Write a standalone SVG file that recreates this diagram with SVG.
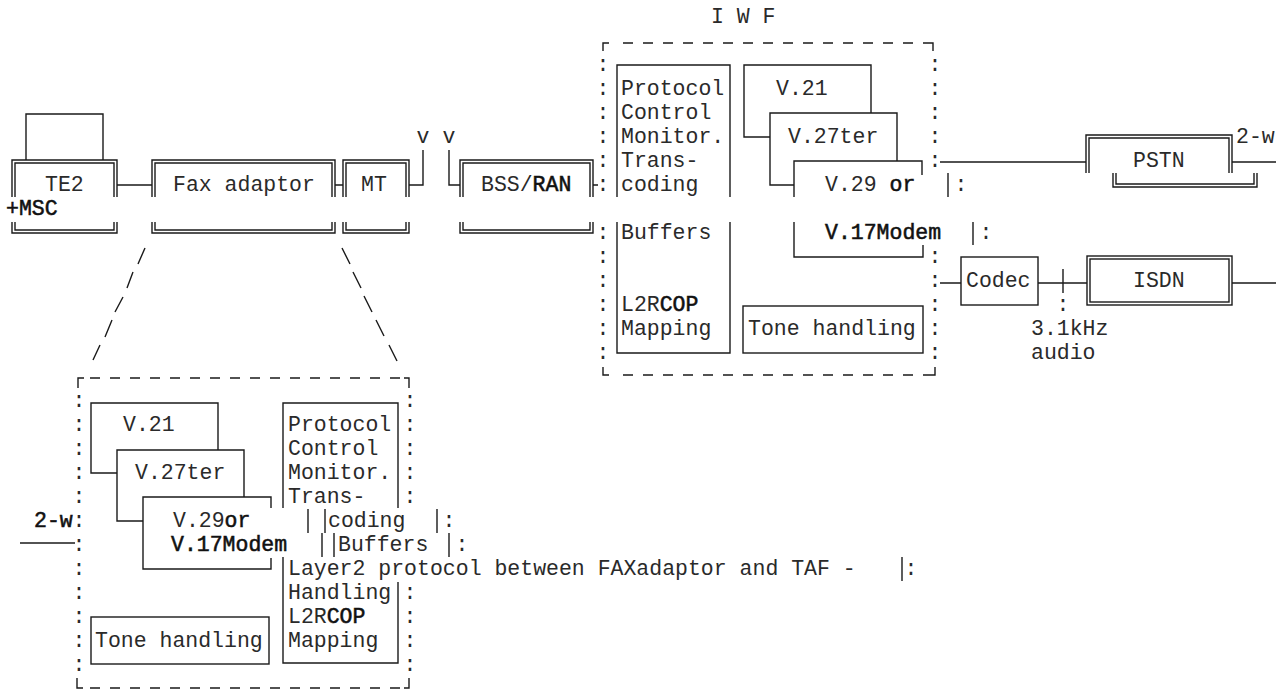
<svg xmlns="http://www.w3.org/2000/svg" width="1276" height="691" viewBox="0 0 1276 691">
  <style>
    .t { font-family: "Liberation Mono", "DejaVu Sans Mono", monospace; font-size: 21.5px; fill: #2a2a2a; }
    .c { text-anchor: middle; }
    .b { fill: #111; stroke: #111; stroke-width: 0.55; }
    .ln { fill: none; stroke: #1a1a1a; stroke-width: 1.4; }
    .dl { fill: none; stroke: #1a1a1a; stroke-width: 1.4; stroke-dasharray: 10 10; }
  </style>
  <rect width="1276" height="691" fill="#ffffff"/>

  <!-- Terminal side -->
  <g id="te2">
    <path class="ln" d="M26,160 V114 H103 V160"/>
    <path class="ln" d="M12,197 V160 H117 V197 M12,222 V233 H117 V222 M15,197 V163 H114 V197 M15,222 V230 H114 V222"/>
    <text class="t" x="45" y="191">TE2</text>
    <text class="t b" x="6" y="215">+MSC</text>
  </g>
  <g id="fax-adaptor">
    <path class="ln" d="M152,197 V160 H335 V197 M152,222 V233 H335 V222 M155,197 V163 H332 V197 M155,222 V230 H332 V222"/>
    <text class="t" x="173" y="191">Fax adaptor</text>
  </g>
  <g id="mt">
    <path class="ln" d="M343,197 V160 H409 V197 M343,222 V233 H409 V222 M346,197 V163 H406 V197 M346,222 V230 H406 V222"/>
    <text class="t" x="361" y="191">MT</text>
  </g>
  <g id="bss-ran">
    <path class="ln" d="M460,197 V160 H593 V197 M460,222 V233 H593 V222 M463,197 V163 H590 V197 M463,222 V230 H590 V222"/>
    <text class="t" x="481" y="191">BSS/<tspan class="b">RAN</tspan></text>
  </g>

  <!-- Interworking function -->
  <g id="iwf">
    <text class="t" x="711" y="23">I W F</text>
    <path class="ln" d="M603,51 V43 H609 M927,43 H933 V51 M603,367 V375 H609 M929,375 H935 V367"/>
    <path class="dl" d="M623,43 H927 M623,375 H929"/>
    <g class="t c">
      <text x="603" y="71">:</text><text x="603" y="95">:</text><text x="603" y="119">:</text>
      <text x="603" y="143">:</text><text x="603" y="167">:</text><text x="603" y="191">:</text>
      <text x="603" y="239">:</text><text x="603" y="263">:</text><text x="603" y="287">:</text>
      <text x="603" y="311">:</text><text x="603" y="335">:</text><text x="603" y="359">:</text>
      <text x="935" y="71">:</text><text x="935" y="95">:</text><text x="935" y="119">:</text>
      <text x="935" y="143">:</text><text x="935" y="167">:</text>
      <text x="935" y="263">:</text><text x="935" y="287">:</text><text x="935" y="311">:</text>
      <text x="935" y="335">:</text><text x="935" y="359">:</text>
      <text x="961" y="191">:</text><text x="986" y="239">:</text>
    </g>
  </g>
  <g id="iwf-protocol">
    <path class="ln" d="M617,197 V65 H730 V197 M617,222 V353 H730 V222"/>
    <text class="t" x="621" y="95">Protocol</text>
    <text class="t" x="621" y="119">Control</text>
    <text class="t" x="621" y="143">Monitor.</text>
    <text class="t" x="621" y="167">Trans-</text>
    <text class="t" x="621" y="191">coding</text>
    <text class="t" x="621" y="239">Buffers</text>
    <text class="t" x="621" y="311">L2R<tspan class="b">COP</tspan></text>
    <text class="t" x="621" y="335">Mapping</text>
  </g>
  <g id="iwf-v21">
    <path class="ln" d="M770,137 H744 V65 H871 V113"/>
    <text class="t" x="776" y="95">V.21</text>
  </g>
  <g id="iwf-v27ter">
    <path class="ln" d="M794,185 H770 V113 H897 V161"/>
    <text class="t" x="788" y="143">V.27ter</text>
  </g>
  <g id="iwf-v29-v17">
    <path class="ln" d="M922,175 V161 H794 V197 M794,222 V257 H923 V245 M948,173 V197 M973,222 V245"/>
    <text class="t" x="825" y="191">V.29 <tspan class="b">or</tspan></text>
    <text class="t b" x="825" y="239">V.17Modem</text>
  </g>
  <g id="iwf-tone">
    <rect class="ln" x="743" y="306" width="180" height="47"/>
    <text class="t" x="748" y="335">Tone handling</text>
  </g>

  <!-- Network side -->
  <g id="pstn">
    <path class="ln" d="M1086,173 V135 H1232 V173 M1089,173 V138 H1229 V173 M1113,173 V187 H1257 V173 M1116,173 V184 H1254 V173"/>
    <text class="t" x="1133" y="167">PSTN</text>
    <text class="t" x="1236" y="143">2-w</text>
  </g>
  <g id="codec">
    <rect class="ln" x="961" y="257" width="77" height="48"/>
    <text class="t" x="966" y="287">Codec</text>
  </g>
  <g id="isdn">
    <rect class="ln" x="1087" y="256" width="145" height="49"/>
    <rect class="ln" x="1090" y="259" width="139" height="43"/>
    <text class="t" x="1133" y="287">ISDN</text>
  </g>
  <g id="audio-label">
    <text class="t c" x="1063" y="311">:</text>
    <text class="t" x="1031" y="335">3.1kHz</text>
    <text class="t" x="1031" y="359">audio</text>
  </g>

  <!-- Fax adaptor detail -->
  <g id="fax-detail">
    <path class="ln" d="M78,388 V378 H84 M404,378 H409 V388 M77,678 V688 H83 M404,688 H409 V678"/>
    <path class="dl" d="M90,378 H404 M90,688 H404"/>
    <g class="t c">
      <text x="79" y="407">:</text><text x="79" y="431">:</text><text x="79" y="455">:</text>
      <text x="79" y="479">:</text><text x="79" y="503">:</text><text x="79" y="527">:</text>
      <text x="79" y="551">:</text><text x="79" y="575">:</text><text x="79" y="599">:</text>
      <text x="79" y="623">:</text><text x="79" y="647">:</text><text x="79" y="671">:</text>
      <text x="410" y="407">:</text><text x="410" y="431">:</text><text x="410" y="455">:</text>
      <text x="410" y="479">:</text><text x="410" y="503">:</text>
      <text x="449" y="527">:</text><text x="462" y="551">:</text><text x="911" y="575">:</text>
      <text x="410" y="599">:</text><text x="410" y="623">:</text><text x="410" y="647">:</text>
      <text x="410" y="671">:</text>
    </g>
    <text class="t b" x="34" y="527">2-w</text>
  </g>
  <g id="fax-v21">
    <path class="ln" d="M117,473 H91 V403 H218 V450"/>
    <text class="t" x="123" y="431">V.21</text>
  </g>
  <g id="fax-v27ter">
    <path class="ln" d="M143,521 H117 V450 H244 V497"/>
    <text class="t" x="135" y="479">V.27ter</text>
  </g>
  <g id="fax-v29-v17">
    <path class="ln" d="M271,508 V497 H143 V569 H271 V558"/>
    <text class="t" x="173" y="527">V.29<tspan class="b">or</tspan></text>
    <text class="t b" x="171" y="551">V.17Modem</text>
  </g>
  <g id="fax-protocol">
    <path class="ln" d="M283,508 V403 H398 V508 M308,509 V533 M325,509 V533 M437,509 V533 M322,533 V557 M334,533 V557 M449,533 V557 M283,557 V663 H398 V582 M902,557 V581"/>
    <text class="t" x="288" y="431">Protocol</text>
    <text class="t" x="288" y="455">Control</text>
    <text class="t" x="288" y="479">Monitor.</text>
    <text class="t" x="288" y="503">Trans-</text>
    <text class="t" x="328" y="527">coding</text>
    <text class="t" x="338" y="551">Buffers</text>
    <text class="t" x="288" y="575">Layer2 protocol between FAXadaptor and TAF -</text>
    <text class="t" x="288" y="599">Handling</text>
    <text class="t" x="288" y="623">L2R<tspan class="b">COP</tspan></text>
    <text class="t" x="288" y="647">Mapping</text>
  </g>
  <g id="fax-tone">
    <rect class="ln" x="91" y="617" width="178" height="47"/>
    <text class="t" x="95" y="647">Tone handling</text>
  </g>

  <!-- Connectors -->
  <g id="connectors">
    <path class="ln" d="M117,185 H152 M335,185 H343 M409,185 H423 V150 M449,150 V185 H460 M593,185 H598"/>
    <text class="t c" x="423" y="143">v</text>
    <text class="t c" x="449" y="143">v</text>
    <path class="ln" d="M940,162 H1086 M1232,162 H1276"/>
    <path class="ln" d="M940,283 H961 M1038,283 H1087 M1063,269 V293 M1232,283 H1276"/>
    <path class="ln" d="M20,543 H75"/>
    <path class="ln" d="M145,248 L138,264 M133,272 L127,288 M123,297 L115,312 M112,320 L105,337 M100,345 L93,360"/>
    <path class="ln" d="M342,248 L350,264 M353,272 L361,288 M364,296 L372,312 M376,320 L384,336 M389,345 L397,361"/>
  </g>
</svg>
